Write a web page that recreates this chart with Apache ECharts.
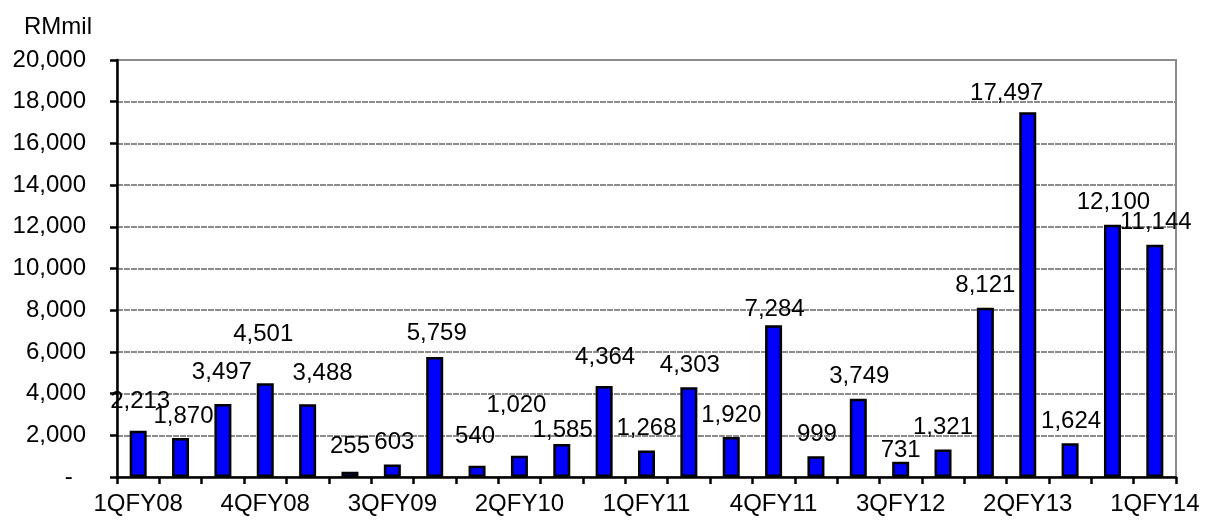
<!DOCTYPE html>
<html>
<head>
<meta charset="utf-8">
<title>RMmil</title>
<script src="https://cdn.jsdelivr.net/npm/echarts@6/dist/echarts.min.js"></script>
<style>
    html, body { margin: 0; padding: 0; background: #fff; }
    #main { width: 1208px; height: 523px; }
</style>
</head>
<body>
<div id="main"></div>
<script>
// categories (quarters)
var quarters = ['1QFY08', '2QFY08', '3QFY08', '4QFY08',
    '1QFY09', '2QFY09', '3QFY09', '4QFY09',
    '1QFY10', '2QFY10', '3QFY10', '4QFY10',
    '1QFY11', '2QFY11', '3QFY11', '4QFY11',
    '1QFY12', '2QFY12', '3QFY12', '4QFY12',
    '1QFY13', '2QFY13', '3QFY13', '4QFY13',
    '1QFY14'];

// values, RMmil
var values = [2213, 1870, 3497, 4501, 3488,
    255, 603, 5759, 540, 1020,
    1585, 4364, 1268, 4303, 1920,
    7284, 999, 3749, 731, 1321,
    8121, 17497, 1624, 12100, 11144];

// y axis ticks
var yTicks = [0, 2000, 4000, 6000, 8000, 10000, 12000, 14000, 16000, 18000, 20000];

// label nudges (px), the original labels were moved around by hand
var labelShift = [[2, -7], [3, 0], [-1, -10], [-2, -27], [15, -9],
    [0, -3], [2, 0], [2, -2], [-2, -7], [-3, -28],
    [1, 8], [1, -7], [0, 0], [1, 0], [0, 0],
    [1, 6], [1, 0], [1, 0], [0, 11], [0, 0],
    [0, 0], [-21, 3], [1, 0], [1, 0], [1, 0]];

var font = "'Liberation Sans', Arial, sans-serif";

function fmt(v) {
    if (v === 0) {
        return '-  ';
    }
    return String(v).replace(/\B(?=(\d{3})+(?!\d))/g, ',');
}

var barData = values.map(function(v, i) {
    return {
        value: v,
        label: {offset: labelShift[i]}
    };
});

var myChart = echarts.init(document.getElementById('main'));

var option = {
    animation: false,
    backgroundColor: '#fff',
    textStyle: {fontFamily: font},
    title: {
        text: 'RMmil',
        left: 19,
        top: 10,
        textStyle: {fontSize: 24, fontWeight: 'normal', color: '#000', fontFamily: font}
    },
    grid: {
        left: 117,
        right: 32,
        top: 60,
        bottom: 46,
        show: true,
        borderColor: '#8c8c8c',
        borderWidth: 2
    },
    xAxis: {
        type: 'category',
        data: quarters,
        boundaryGap: true,
        axisLine: {lineStyle: {color: '#000', width: 2.5}},
        axisTick: {show: true, interval: 0, length: 7, inside: false, lineStyle: {color: '#000', width: 2.5}},
        axisLabel: {
            interval: 2,
            margin: 15,
            fontSize: 24,
            color: '#000',
            fontFamily: font
        },
        splitLine: {show: false}
    },
    yAxis: {
        type: 'value',
        min: yTicks[0],
        max: yTicks[yTicks.length - 1],
        interval: yTicks[1] - yTicks[0],
        axisLine: {show: true, lineStyle: {color: '#000', width: 2.5}},
        axisTick: {show: true, length: 7, lineStyle: {color: '#000', width: 2.5}},
        axisLabel: {
            margin: 31,
            fontSize: 24,
            color: '#000',
            fontFamily: font,
            formatter: fmt
        },
        splitLine: {
            show: true,
            lineStyle: {color: '#8c8c8c', width: 2, type: [6, 1]}
        }
    },
    series: [
        {
            name: 'RMmil',
            type: 'bar',
            data: barData,
            barWidth: 17,
            itemStyle: {
                color: '#0000ff',
                borderColor: '#000',
                borderWidth: 2.5
            },
            label: {
                show: true,
                position: 'top',
                distance: 10,
                fontSize: 24,
                color: '#000',
                fontFamily: font,
                formatter: function(p) {
                    return fmt(p.value);
                }
            }
        }
    ]
};

myChart.setOption(option);
</script>
</body>
</html>
